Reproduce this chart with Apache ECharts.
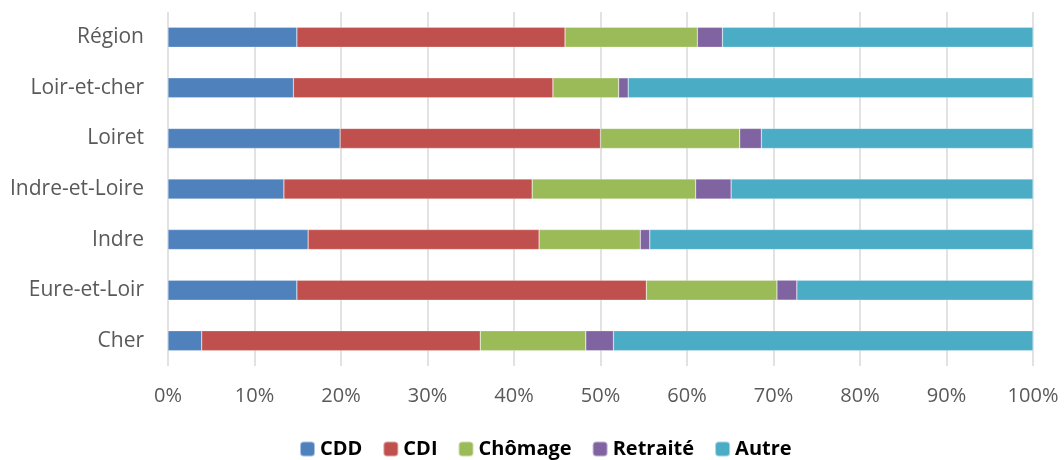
<!DOCTYPE html>
<html>
<head>
<meta charset="utf-8">
<script src="https://cdn.jsdelivr.net/npm/echarts@6/dist/echarts.min.js"></script>
<style>
  html, body { margin: 0; padding: 0; background: #fff; }
  #chart { width: 1064px; height: 460px; }
</style>
</head>
<body>
<div id="chart"></div>
<script>
// catégories, de bas en haut
const regions = ["Cher", "Eure-et-Loir", "Indre", "Indre-et-Loire", "Loiret", "Loir-et-cher", "Région"];
const cdd      = [3.9, 14.9, 16.2, 13.4, 19.9, 14.5, 14.9];
const cdi      = [32.2, 40.4, 26.7, 28.7, 30.1, 30.0, 31.0];
const chomage  = [12.2, 15.1, 11.7, 18.9, 16.1, 7.6, 15.3];
const retraite = [3.2, 2.3, 1.1, 4.1, 2.5, 1.1, 2.9];
const autre    = [48.5, 27.3, 44.3, 34.9, 31.4, 46.8, 35.9];
const tickLabels = ["0%", "10%", "20%", "30%", "40%", "50%", "60%", "70%", "80%", "90%", "100%"];

const chart = echarts.init(document.getElementById("chart"));

const mkSeries = (name, data, color) => ({
  name: name,
  type: "bar",
  stack: "total",
  barWidth: 20,
  itemStyle: { color: color, borderColor: "rgba(255,255,255,0.5)", borderWidth: 0.5 },
  data: data,
});

chart.setOption({
  animation: false,
  textStyle: { fontFamily: "Open Sans" },
  grid: { left: 168, right: 31, top: 12, bottom: 94 },
  xAxis: {
    type: "value",
    min: 0,
    max: 100,
    interval: 10,
    axisLine: { show: false },
    axisTick: { show: false },
    axisLabel: {
      color: "#595959",
      fontSize: 20,
      margin: 20,
      formatter: (v) => tickLabels[Math.round(v / 10)],
    },
    splitLine: { lineStyle: { color: "#D9D9D9", width: 1.5 } },
  },
  yAxis: {
    type: "category",
    data: regions,
    axisLine: { show: false },
    axisTick: { show: false },
    axisLabel: { color: "#595959", fontSize: 21, margin: 24 },
  },
  legend: {
    bottom: -4,
    left: 294,
    itemWidth: 15,
    itemHeight: 15,
    itemGap: 20,
    textStyle: { color: "#000", fontSize: 20, fontWeight: "bold" },
    data: ["CDD", "CDI", "Chômage", "Retraité", "Autre"],
  },
  series: [
    mkSeries("CDD", cdd, "#4F81BD"),
    mkSeries("CDI", cdi, "#C0504D"),
    mkSeries("Chômage", chomage, "#9BBB59"),
    mkSeries("Retraité", retraite, "#8064A2"),
    mkSeries("Autre", autre, "#4BACC6"),
  ],
});
</script>
</body>
</html>
